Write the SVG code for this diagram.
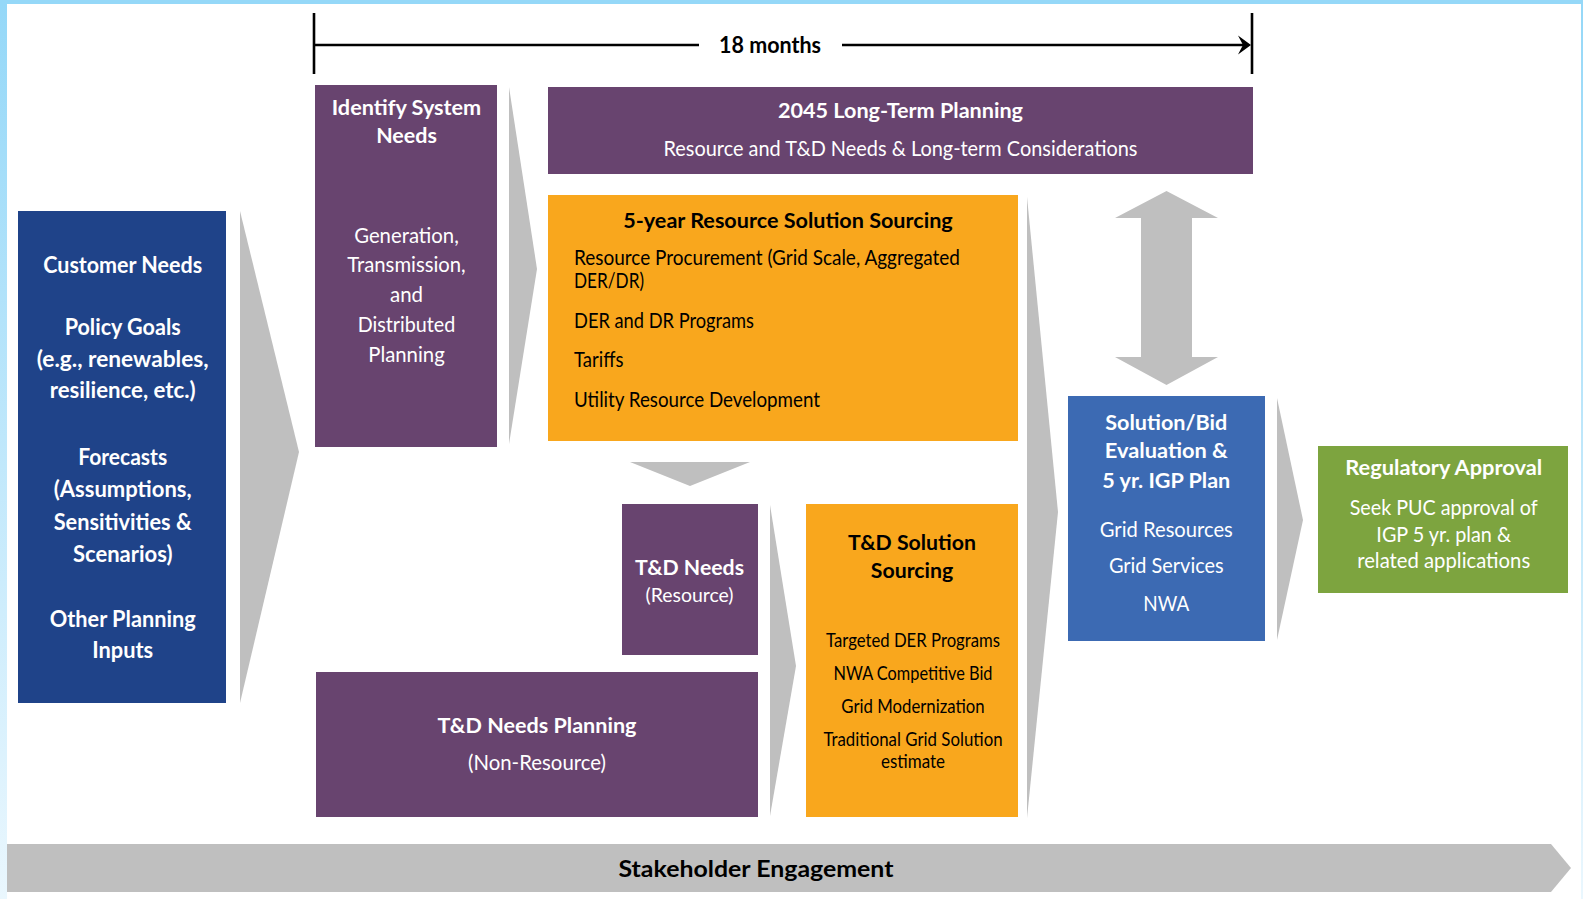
<svg xmlns="http://www.w3.org/2000/svg" width="1583" height="899" viewBox="0 0 1583 899">
  <defs>
    <linearGradient id="edge" x1="0" y1="0" x2="0" y2="1">
      <stop offset="0" stop-color="#95D8F8"/>
      <stop offset="1" stop-color="#EAF7FE"/>
    </linearGradient>
    <style>
      text { font-family: Lato, "Liberation Sans", sans-serif; }
      .b { font-weight: 700; }
      .w { fill: #FFFFFF; }
      .k { fill: #000000; }
      .c { text-anchor: middle; }
      .purple { fill: #68446F; }
      .orange { fill: #F9A71D; }
      .navy { fill: #1F4389; }
      .blue { fill: #3C6AB3; }
      .green { fill: #7DA43F; }
      .gray { fill: #BFBFBF; }
      .rule { stroke: #000000; stroke-width: 2.6; fill: none; }
    </style>
  </defs>

  <!-- page background and frame -->
  <rect x="0" y="0" width="1583" height="899" fill="#FFFFFF"/>
  <rect x="0" y="0" width="1583" height="4" fill="#95D8F8"/>
  <rect x="0" y="4" width="7" height="895" fill="url(#edge)"/>
  <rect x="1581" y="4" width="2" height="895" fill="url(#edge)"/>

  <!-- flow chevrons, double arrow and timeline -->
  <g id="connectors">
    <polygon class="gray" points="240,211 299,452 240,703"/>
    <polygon class="gray" points="509,87 537,269 509,444"/>
    <polygon class="gray" points="630,462 750,462 690,486"/>
    <polygon class="gray" points="770,505 796,666 770,816"/>
    <polygon class="gray" points="1027,197 1058,512 1027,818"/>
    <polygon class="gray" points="1277,398 1303,520 1277,640"/>
    <polygon class="gray" points="1166.5,191 1218,218 1192,218 1192,357 1218,357 1166.5,385 1115,357 1141,357 1141,218 1115,218"/>
    <g id="timeline">
      <line class="rule" x1="314" y1="13" x2="314" y2="74"/>
      <line class="rule" x1="1252" y1="13" x2="1252" y2="74"/>
      <line class="rule" x1="314" y1="45" x2="699" y2="45"/>
      <line class="rule" x1="842" y1="45" x2="1244" y2="45"/>
      <path d="M1251,45 L1238,35.5 L1243,45 L1238,54.5 Z" fill="#000000"/>
      <text class="b k c" x="770" y="52.5" font-size="22.3" textLength="102" lengthAdjust="spacingAndGlyphs">18 months</text>
    </g>
  </g>

  <g id="inputs">
    <rect class="navy" x="18" y="211" width="208" height="492"/>
    <g class="b w c" font-size="23.3">
      <text x="122.7" y="273" textLength="159" lengthAdjust="spacingAndGlyphs">Customer Needs</text>
      <text x="122.7" y="335" textLength="116" lengthAdjust="spacingAndGlyphs">Policy Goals</text>
      <text x="122.7" y="366.7" textLength="172" lengthAdjust="spacingAndGlyphs">(e.g., renewables,</text>
      <text x="122.7" y="398.3" textLength="146" lengthAdjust="spacingAndGlyphs">resilience, etc.)</text>
      <text x="122.7" y="465" textLength="89" lengthAdjust="spacingAndGlyphs">Forecasts</text>
      <text x="122.7" y="496.7" textLength="138" lengthAdjust="spacingAndGlyphs">(Assumptions,</text>
      <text x="122.7" y="530" textLength="138" lengthAdjust="spacingAndGlyphs">Sensitivities &amp;</text>
      <text x="122.7" y="561.7" textLength="99.5" lengthAdjust="spacingAndGlyphs">Scenarios)</text>
      <text x="122.7" y="626.7" textLength="146" lengthAdjust="spacingAndGlyphs">Other Planning</text>
      <text x="122.7" y="658.3" textLength="61" lengthAdjust="spacingAndGlyphs">Inputs</text>
    </g>
  </g>

  <g id="identify-needs">
    <rect class="purple" x="315" y="85" width="182" height="362"/>
    <g class="w c" font-size="21">
      <text class="b" x="406.5" y="115" textLength="149.5" lengthAdjust="spacingAndGlyphs">Identify System</text>
      <text class="b" x="406.5" y="143.3" textLength="60.7" lengthAdjust="spacingAndGlyphs">Needs</text>
      <text x="406.5" y="243.3" textLength="104.6" lengthAdjust="spacingAndGlyphs">Generation,</text>
      <text x="406.5" y="271.7" textLength="118.4" lengthAdjust="spacingAndGlyphs">Transmission,</text>
      <text x="406.5" y="301.7" textLength="33" lengthAdjust="spacingAndGlyphs">and</text>
      <text x="406.5" y="331.7" textLength="97.5" lengthAdjust="spacingAndGlyphs">Distributed</text>
      <text x="406.5" y="361.7" textLength="76.5" lengthAdjust="spacingAndGlyphs">Planning</text>
    </g>
  </g>

  <g id="long-term">
    <rect class="purple" x="548" y="87" width="705" height="87"/>
    <text class="b w c" x="900.5" y="118.3" font-size="21" textLength="245" lengthAdjust="spacingAndGlyphs">2045 Long-Term Planning</text>
    <text class="w c" x="900.5" y="156" font-size="21.5" textLength="474" lengthAdjust="spacingAndGlyphs">Resource and T&amp;D Needs &amp; Long-term Considerations</text>
  </g>

  <g id="resource-sourcing">
    <rect class="orange" x="548" y="195" width="470" height="246"/>
    <text class="b k c" x="788" y="228.3" font-size="21" textLength="329.5" lengthAdjust="spacingAndGlyphs">5-year Resource Solution Sourcing</text>
    <g class="k" font-size="21">
      <text x="574" y="265" textLength="386" lengthAdjust="spacingAndGlyphs">Resource Procurement (Grid Scale, Aggregated</text>
      <text x="574" y="288.3" textLength="70" lengthAdjust="spacingAndGlyphs">DER/DR)</text>
      <text x="574" y="328.3" textLength="180" lengthAdjust="spacingAndGlyphs">DER and DR Programs</text>
      <text x="574" y="366.7" textLength="49.5" lengthAdjust="spacingAndGlyphs">Tariffs</text>
      <text x="574" y="406.7" textLength="246" lengthAdjust="spacingAndGlyphs">Utility Resource Development</text>
    </g>
  </g>

  <g id="td-needs-resource">
    <rect class="purple" x="622" y="504" width="136" height="151"/>
    <text class="b w c" x="689.5" y="575" font-size="21" textLength="109" lengthAdjust="spacingAndGlyphs">T&amp;D Needs</text>
    <text class="w c" x="689.5" y="601.7" font-size="18.6" textLength="88" lengthAdjust="spacingAndGlyphs">(Resource)</text>
  </g>

  <g id="td-needs-planning">
    <rect class="purple" x="316" y="672" width="442" height="145"/>
    <text class="b w c" x="537" y="733.3" font-size="21" textLength="199" lengthAdjust="spacingAndGlyphs">T&amp;D Needs Planning</text>
    <text class="w c" x="537" y="770" font-size="21" textLength="138" lengthAdjust="spacingAndGlyphs">(Non-Resource)</text>
  </g>

  <g id="td-sourcing">
    <rect class="orange" x="806" y="504" width="212" height="313"/>
    <text class="b k c" x="912" y="550" font-size="21" textLength="128" lengthAdjust="spacingAndGlyphs">T&amp;D Solution</text>
    <text class="b k c" x="912" y="578.3" font-size="21" textLength="82.4" lengthAdjust="spacingAndGlyphs">Sourcing</text>
    <g class="k c" font-size="18.6">
      <text x="913" y="646.7" textLength="174" lengthAdjust="spacingAndGlyphs">Targeted DER Programs</text>
      <text x="913" y="680" textLength="159" lengthAdjust="spacingAndGlyphs">NWA Competitive Bid</text>
      <text x="913" y="712.7" textLength="143.4" lengthAdjust="spacingAndGlyphs">Grid Modernization</text>
      <text x="913" y="746" textLength="179.2" lengthAdjust="spacingAndGlyphs">Traditional Grid Solution</text>
      <text x="913" y="768.3" textLength="64" lengthAdjust="spacingAndGlyphs">estimate</text>
    </g>
  </g>

  <g id="evaluation">
    <rect class="blue" x="1068" y="396" width="197" height="245"/>
    <g class="w c" font-size="21">
      <text class="b" x="1166.3" y="430" textLength="122" lengthAdjust="spacingAndGlyphs">Solution/Bid</text>
      <text class="b" x="1166.3" y="458.3" textLength="123" lengthAdjust="spacingAndGlyphs">Evaluation &amp;</text>
      <text class="b" x="1166.3" y="488.3" textLength="128" lengthAdjust="spacingAndGlyphs">5 yr. IGP Plan</text>
      <text x="1166.3" y="536.7" textLength="133" lengthAdjust="spacingAndGlyphs">Grid Resources</text>
      <text x="1166.3" y="573.3" textLength="114.7" lengthAdjust="spacingAndGlyphs">Grid Services</text>
      <text x="1166.3" y="610.7" textLength="46" lengthAdjust="spacingAndGlyphs">NWA</text>
    </g>
  </g>

  <g id="approval">
    <rect class="green" x="1318" y="446" width="250" height="147"/>
    <g class="w c" font-size="21">
      <text class="b" x="1443.7" y="475" textLength="197" lengthAdjust="spacingAndGlyphs">Regulatory Approval</text>
      <text x="1443.7" y="515" textLength="188" lengthAdjust="spacingAndGlyphs">Seek PUC approval of</text>
      <text x="1443.7" y="541.7" textLength="134.7" lengthAdjust="spacingAndGlyphs">IGP 5 yr. plan &amp;</text>
      <text x="1443.7" y="568.3" textLength="173" lengthAdjust="spacingAndGlyphs">related applications</text>
    </g>
  </g>

  <g id="stakeholder-engagement">
    <polygon class="gray" points="7,844 1551,844 1571,868 1551,892 7,892"/>
    <text class="b k c" x="756" y="876.7" font-size="23.3" textLength="275" lengthAdjust="spacingAndGlyphs">Stakeholder Engagement</text>
  </g>
</svg>
